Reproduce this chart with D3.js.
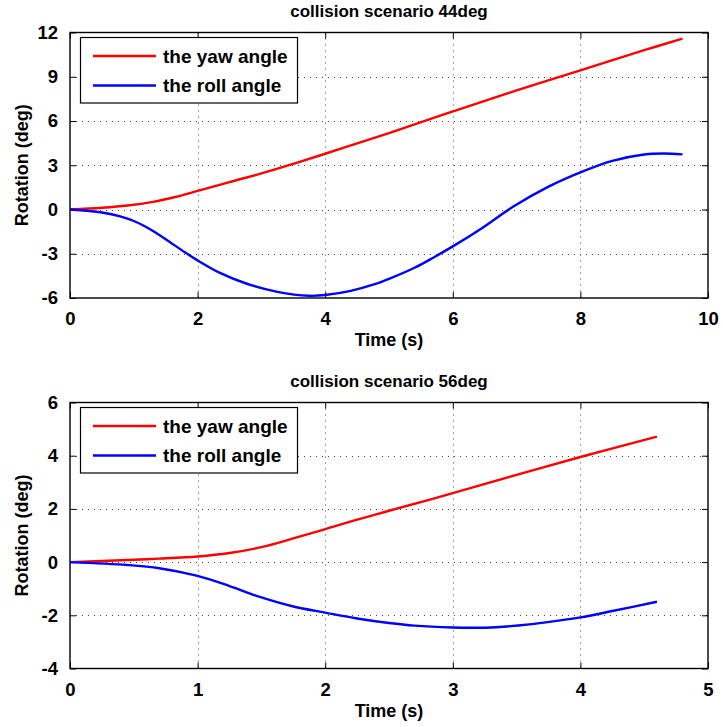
<!DOCTYPE html>
<html>
<head>
<meta charset="utf-8">
<script src="https://cdn.jsdelivr.net/npm/d3@7"></script>
<style>
  html, body { margin: 0; padding: 0; background: #fff; }
  svg { display: block; }
  text { font-family: "Liberation Sans", Arial, Helvetica, sans-serif; font-weight: bold; fill: #000; }
</style>
</head>
<body>
<script>
// ---------- data ----------
const seriesNames = ["the yaw angle", "the roll angle"];
const seriesColors = ["#ff0000", "#0000ff"];

// panel 1: collision scenario 44deg
const title1 = "collision scenario 44deg";
const xTicks1 = [0, 2, 4, 6, 8, 10];
const yTicks1 = [-6, -3, 0, 3, 6, 9, 12];
const yawT1 = [0, 0.5, 0.9, 1.3, 1.65, 2.0, 2.5, 3.0, 3.5, 4.0, 4.5, 5.0, 6.0, 7.0, 8.0, 9.0, 9.6];
const yawV1 = [0, 0.12, 0.27, 0.52, 0.85, 1.26, 1.86, 2.45, 3.1, 3.78, 4.48, 5.18, 6.65, 8.08, 9.43, 10.8, 11.58];
const rollT1 = [0, 0.5, 0.8, 1.0, 1.2, 1.35, 1.5, 1.8, 2.0, 2.35, 2.75, 3.25, 3.75, 4.0, 4.4, 4.75, 5.0, 5.4, 5.7, 6.0, 6.45, 6.95, 7.5, 8.0, 8.5, 9.0, 9.3, 9.6];
const rollV1 = [0, -0.2, -0.48, -0.78, -1.2, -1.6, -2.02, -2.9, -3.45, -4.3, -5.0, -5.58, -5.85, -5.8, -5.52, -5.1, -4.7, -3.95, -3.25, -2.5, -1.28, 0.2, 1.55, 2.52, 3.3, 3.73, 3.8, 3.74];

// panel 2: collision scenario 56deg
const title2 = "collision scenario 56deg";
const xTicks2 = [0, 1, 2, 3, 4, 5];
const yTicks2 = [-4, -2, 0, 2, 4, 6];
const yawT2 = [0, 0.45, 0.7, 1.0, 1.25, 1.5, 1.75, 2.0, 2.25, 2.5, 3.0, 3.5, 4.0, 4.6];
const yawV2 = [0, 0.08, 0.13, 0.21, 0.34, 0.56, 0.89, 1.24, 1.6, 1.93, 2.59, 3.28, 3.95, 4.72];
const rollT2 = [0, 0.45, 0.7, 1.0, 1.25, 1.5, 1.75, 2.0, 2.25, 2.5, 2.7, 3.0, 3.15, 3.3, 3.6, 3.8, 4.0, 4.25, 4.6];
const rollV2 = [0, -0.11, -0.23, -0.52, -0.9, -1.33, -1.67, -1.9, -2.12, -2.29, -2.39, -2.46, -2.47, -2.46, -2.34, -2.22, -2.08, -1.84, -1.49];

const xLabel = "Time (s)";
const yLabel = "Rotation (deg)";

// ---------- drawing ----------
const W = 723, H = 727;
const svg = d3.select("body").append("svg").attr("width", W).attr("height", H);
const fmt = d => String(d);

function zip(t, v) { return t.map((d, i) => ({ t: d, v: v[i] })); }

function panel(opts) {
  const left = 70, right = 708;
  const { top, bottom } = opts;
  const x = d3.scaleLinear().domain([opts.xTicks[0], opts.xTicks[opts.xTicks.length - 1]]).range([left, right]);
  const y = d3.scaleLinear().domain([opts.yTicks[0], opts.yTicks[opts.yTicks.length - 1]]).range([bottom, top]);
  const g = svg.append("g");

  // grid
  const grid = g.append("g").attr("stroke", "#444").attr("stroke-width", 1).attr("stroke-dasharray", "1,5");
  opts.xTicks.slice(1, -1).forEach(t => {
    grid.append("line").attr("x1", Math.round(x(t)) + 0.5).attr("x2", Math.round(x(t)) + 0.5).attr("y1", top).attr("y2", bottom);
  });
  opts.yTicks.slice(1, -1).forEach(t => {
    grid.append("line").attr("y1", Math.round(y(t)) + 0.5).attr("y2", Math.round(y(t)) + 0.5).attr("x1", left).attr("x2", right);
  });

  // axes with inward ticks on all sides
  const tl = 6;
  const axB = d3.axisBottom(x).tickValues(opts.xTicks).tickSizeInner(-tl).tickSizeOuter(0).tickPadding(14).tickFormat(fmt);
  const axT = d3.axisTop(x).tickValues(opts.xTicks).tickSizeInner(-tl).tickSizeOuter(0).tickFormat("");
  const axL = d3.axisLeft(y).tickValues(opts.yTicks).tickSizeInner(-tl).tickSizeOuter(0).tickPadding(12).tickFormat(fmt);
  const axR = d3.axisRight(y).tickValues(opts.yTicks).tickSizeInner(-tl).tickSizeOuter(0).tickFormat("");
  [[axB, `translate(0,${bottom})`], [axT, `translate(0,${top})`], [axL, `translate(${left},0)`], [axR, `translate(${right},0)`]].forEach(([ax, tr]) => {
    const a = g.append("g").attr("transform", tr).call(ax);
    a.select(".domain").remove();
    a.selectAll(".tick line").attr("stroke", "#000").attr("stroke-width", 1);
    a.selectAll("text").style("font-size", "18.5px").attr("font-family", null).attr("fill", "#000");
  });

  // series
  const line = d3.line().x(d => x(d.t)).y(d => y(d.v)).curve(d3.curveCatmullRom.alpha(0.5));
  opts.series.forEach((s, i) => {
    g.append("path").datum(s).attr("fill", "none").attr("stroke", seriesColors[i])
      .attr("stroke-width", 2.4).attr("stroke-linejoin", "round").attr("stroke-linecap", "butt").attr("d", line);
  });

  // border
  g.append("rect").attr("x", left).attr("y", top).attr("width", right - left).attr("height", bottom - top)
    .attr("fill", "none").attr("stroke", "#000").attr("stroke-width", 1.4);

  // title
  g.append("text").attr("x", (left + right) / 2).attr("y", top - 15.5).attr("text-anchor", "middle")
    .style("font-size", "17px").text(opts.title);
  // x label
  g.append("text").attr("x", (left + right) / 2).attr("y", bottom + 48).attr("text-anchor", "middle")
    .style("font-size", "18px").text(xLabel);
  // y label
  g.append("text").attr("transform", `translate(28,${(top + bottom) / 2}) rotate(-90)`).attr("text-anchor", "middle")
    .style("font-size", "18px").text(yLabel);

  // legend
  const lx = 80.5, ly = top + 5, lw = 217, lh = 65.5;
  const lg = g.append("g");
  lg.append("rect").attr("x", lx).attr("y", ly).attr("width", lw).attr("height", lh)
    .attr("fill", "#fff").attr("stroke", "#000").attr("stroke-width", 1.2);
  seriesNames.forEach((n, i) => {
    const yy = ly + 18.5 + i * 29.5;
    lg.append("line").attr("x1", 93).attr("x2", 156).attr("y1", yy).attr("y2", yy)
      .attr("stroke", seriesColors[i]).attr("stroke-width", 2.4);
    lg.append("text").attr("x", 163).attr("y", yy + 6.5).style("font-size", "19px").text(n);
  });
}

panel({ top: 32.5, bottom: 298, xTicks: xTicks1, yTicks: yTicks1, title: title1,
  series: [zip(yawT1, yawV1), zip(rollT1, rollV1)] });
panel({ top: 402.5, bottom: 668.5, xTicks: xTicks2, yTicks: yTicks2, title: title2,
  series: [zip(yawT2, yawV2), zip(rollT2, rollV2)] });
</script>
</body>
</html>
